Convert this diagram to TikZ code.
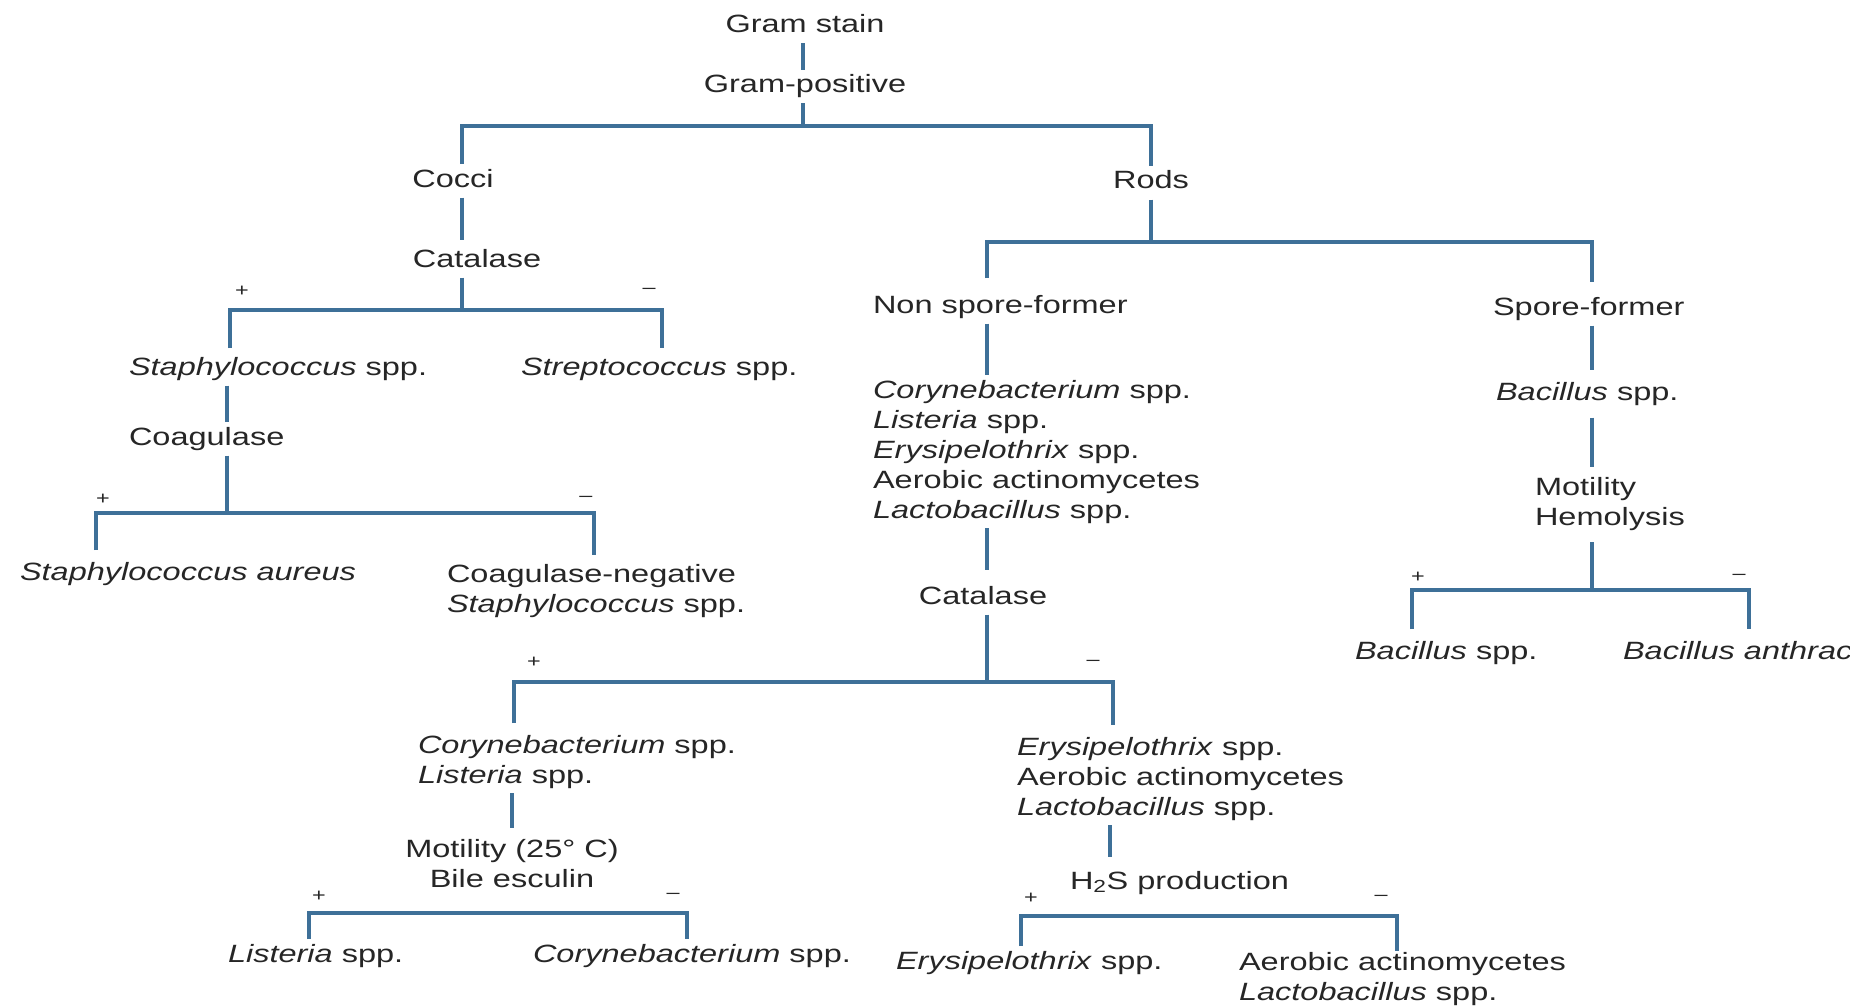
\documentclass[tikz,border=0pt]{standalone}
\usepackage{fontspec}
\setmainfont{Liberation Sans}[FakeStretch=1.3]
\definecolor{linec}{RGB}{62,112,152}
\definecolor{textc}{RGB}{38,38,38}
\begin{document}
\begin{tikzpicture}[x=1pt,y=-1pt,
  ln/.style={draw=linec, line width=3.2pt, line cap=butt, line join=miter},
  txt/.style={inner sep=0pt, outer sep=5pt, text=textc, font=\fontsize{25}{30}\selectfont, text height=18pt, text depth=5.5pt},
  lst/.style={inner sep=0pt, outer sep=5pt, text=textc, font=\fontsize{25}{30}\selectfont, align=left, anchor=north west},
  sgn/.style={inner sep=0pt, text=textc, font=\fontsize{18}{20}\selectfont}
]
\useasboundingbox (0,0) rectangle (1850,1006);
\clip (0,0) rectangle (1850,1006);
\fill[white] (0,0) rectangle (1850,1006);

% ---- nodes ----
\node[txt, anchor=base] (gram) at (805,33) {Gram stain};
\node[txt, anchor=base] (grampos) at (805,93) {Gram-positive};
\node[txt, anchor=base] (cocci) at (453,187) {Cocci};
\node[txt, anchor=base] (rods) at (1151,189) {Rods};
\node[txt, anchor=base] (catal1) at (477,267) {Catalase};
\node[txt, anchor=base west] (staph) at (124,375) {\textit{Staphylococcus} spp.};
\node[txt, anchor=base west] (strep) at (516,375) {\textit{Streptococcus} spp.};
\node[txt, anchor=base west] (coag) at (124,445) {Coagulase};
\node[txt, anchor=base west] (saureus) at (15,580) {\textit{Staphylococcus aureus}};
\node[lst] (coagneg) at (442,559) {Coagulase-negative\\\textit{Staphylococcus} spp.};
\node[txt, anchor=base west] (nonspore) at (868,313) {Non spore-former};
\node[txt, anchor=base west] (spore) at (1488,315) {Spore-former};
\node[lst] (list5) at (868,375) {\textit{Corynebacterium} spp.\\\textit{Listeria} spp.\\\textit{Erysipelothrix} spp.\\Aerobic actinomycetes\\\textit{Lactobacillus} spp.};
\node[txt, anchor=base] (catal2) at (983,604) {Catalase};
\node[txt, anchor=base west] (bacspp1) at (1491,400) {\textit{Bacillus} spp.};
\node[lst] (motil) at (1530,472) {Motility\\Hemolysis};
\node[txt, anchor=base west] (bacspp2) at (1350,659) {\textit{Bacillus} spp.};
\node[txt, anchor=base west] (anthr) at (1618,659) {\textit{Bacillus anthracis}};
\node[lst] (coryn2) at (413,730) {\textit{Corynebacterium} spp.\\\textit{Listeria} spp.};
\node[lst, align=center, anchor=north] (motil25) at (512,834) {Motility (25° C)\\Bile esculin};
\node[lst] (erysip) at (1012,732) {\textit{Erysipelothrix} spp.\\Aerobic actinomycetes\\\textit{Lactobacillus} spp.};
\node[txt, anchor=base west] (h2s) at (1065,889) {H\textsubscript{2}S production};
\node[txt, anchor=base west] (listeria) at (223,962) {\textit{Listeria} spp.};
\node[txt, anchor=base west] (coryn3) at (528,962) {\textit{Corynebacterium} spp.};
\node[txt, anchor=base west] (erysip2) at (891,969) {\textit{Erysipelothrix} spp.};
\node[lst] (aerobic2) at (1234,947) {Aerobic actinomycetes\\\textit{Lactobacillus} spp.};

% ---- signs ----
\node[sgn] (p1) at (242,291) {+};
\node[sgn] (m1) at (649,291) {\textendash};
\node[sgn] (p2) at (103,499) {+};
\node[sgn] (m2) at (586,499) {\textendash};
\node[sgn] (p3) at (534,662) {+};
\node[sgn] (m3) at (1093,663) {\textendash};
\node[sgn] (p4) at (1418,577) {+};
\node[sgn] (m4) at (1739,577) {\textendash};
\node[sgn] (p5) at (319,896) {+};
\node[sgn] (m5) at (673,896) {\textendash};
\node[sgn] (p6) at (1031,898) {+};
\node[sgn] (m6) at (1381,898) {\textendash};

% ---- junction coordinates ----
\coordinate (j0) at (803,126);
\coordinate (jA) at (462,126);
\coordinate (jB) at (1151,126);
\coordinate (jC) at (462,310);
\coordinate (bA) at (230,310);
\coordinate (bB) at (662,310);
\coordinate (cA) at (227,513);
\coordinate (dA) at (96,513);
\coordinate (dB) at (594,513);
\coordinate (eB) at (1151,242);
\coordinate (eA) at (987,242);
\coordinate (eC) at (1592,242);
\coordinate (fA) at (987,682);
\coordinate (fL) at (514,682);
\coordinate (fR) at (1113,682);
\coordinate (gC) at (1592,590);
\coordinate (gL) at (1412,590);
\coordinate (gR) at (1749,590);
\coordinate (hA) at (512,800);
\coordinate (iL) at (309,913);
\coordinate (iR) at (687,913);
\coordinate (kA) at (1110,830);
\coordinate (mL) at (1021,916);
\coordinate (mR) at (1397,916);

% ---- connectors ----
\draw[ln] (gram.south -| j0) -- (grampos.north -| j0);
\draw[ln] (grampos.south -| j0) -- (j0);
\draw[ln] (cocci.north -| jA) -- (jA) -- (jB) -- (rods.north -| jB);
\draw[ln] (cocci.south -| jA) -- ([yshift=4pt]catal1.north -| jA);
\draw[ln] (catal1.south -| jA) -- (jC);
\draw[ln] ([yshift=4pt]staph.north -| bA) -- (bA) -- (bB) -- ([yshift=4pt]strep.north -| bB);
\draw[ln] (staph.south -| cA) -- (coag.north -| cA);
\draw[ln] (coag.south -| cA) -- (cA);
\draw[ln] ([yshift=7pt]saureus.north -| dA) -- (dA) -- (dB) -- ([yshift=4pt]coagneg.north -| dB);
\draw[ln] (rods.south -| eB) -- (eB);
\draw[ln] ([yshift=12pt]nonspore.north -| eA) -- (eA) -- (eC) -- ([yshift=10pt]spore.north -| eC);
\draw[ln] (nonspore.south -| eA) -- (list5.north -| eA);
\draw[ln] (list5.south -| eA) -- ([yshift=11pt]catal2.north -| eA);
\draw[ln] (catal2.south -| fA) -- (fA);
\draw[ln] ([yshift=7pt]coryn2.north -| fL) -- (fL) -- (fR) -- ([yshift=7pt]erysip.north -| fR);
\draw[ln] (spore.south -| eC) -- ([yshift=7pt]bacspp1.north -| eC);
\draw[ln] ([yshift=-7pt]bacspp1.south -| eC) -- ([yshift=5pt]motil.north -| eC);
\draw[ln] ([yshift=-7pt]motil.south -| gC) -- (gC);
\draw[ln] ([yshift=7pt]bacspp2.north -| gL) -- (gL) -- (gR) -- ([yshift=7pt]anthr.north -| gR);
\draw[ln] (coryn2.south -| hA) -- ([yshift=6pt]motil25.north -| hA);
\draw[ln] (listeria.north -| iL) -- (iL) -- (iR) -- (coryn3.north -| iR);
\draw[ln] (erysip.south -| kA) -- ([yshift=9pt]h2s.north -| kA);
\draw[ln] (erysip2.north -| mL) -- (mL) -- (mR) -- ([yshift=-4pt]aerobic2.north -| mR);
\end{tikzpicture}
\end{document}
